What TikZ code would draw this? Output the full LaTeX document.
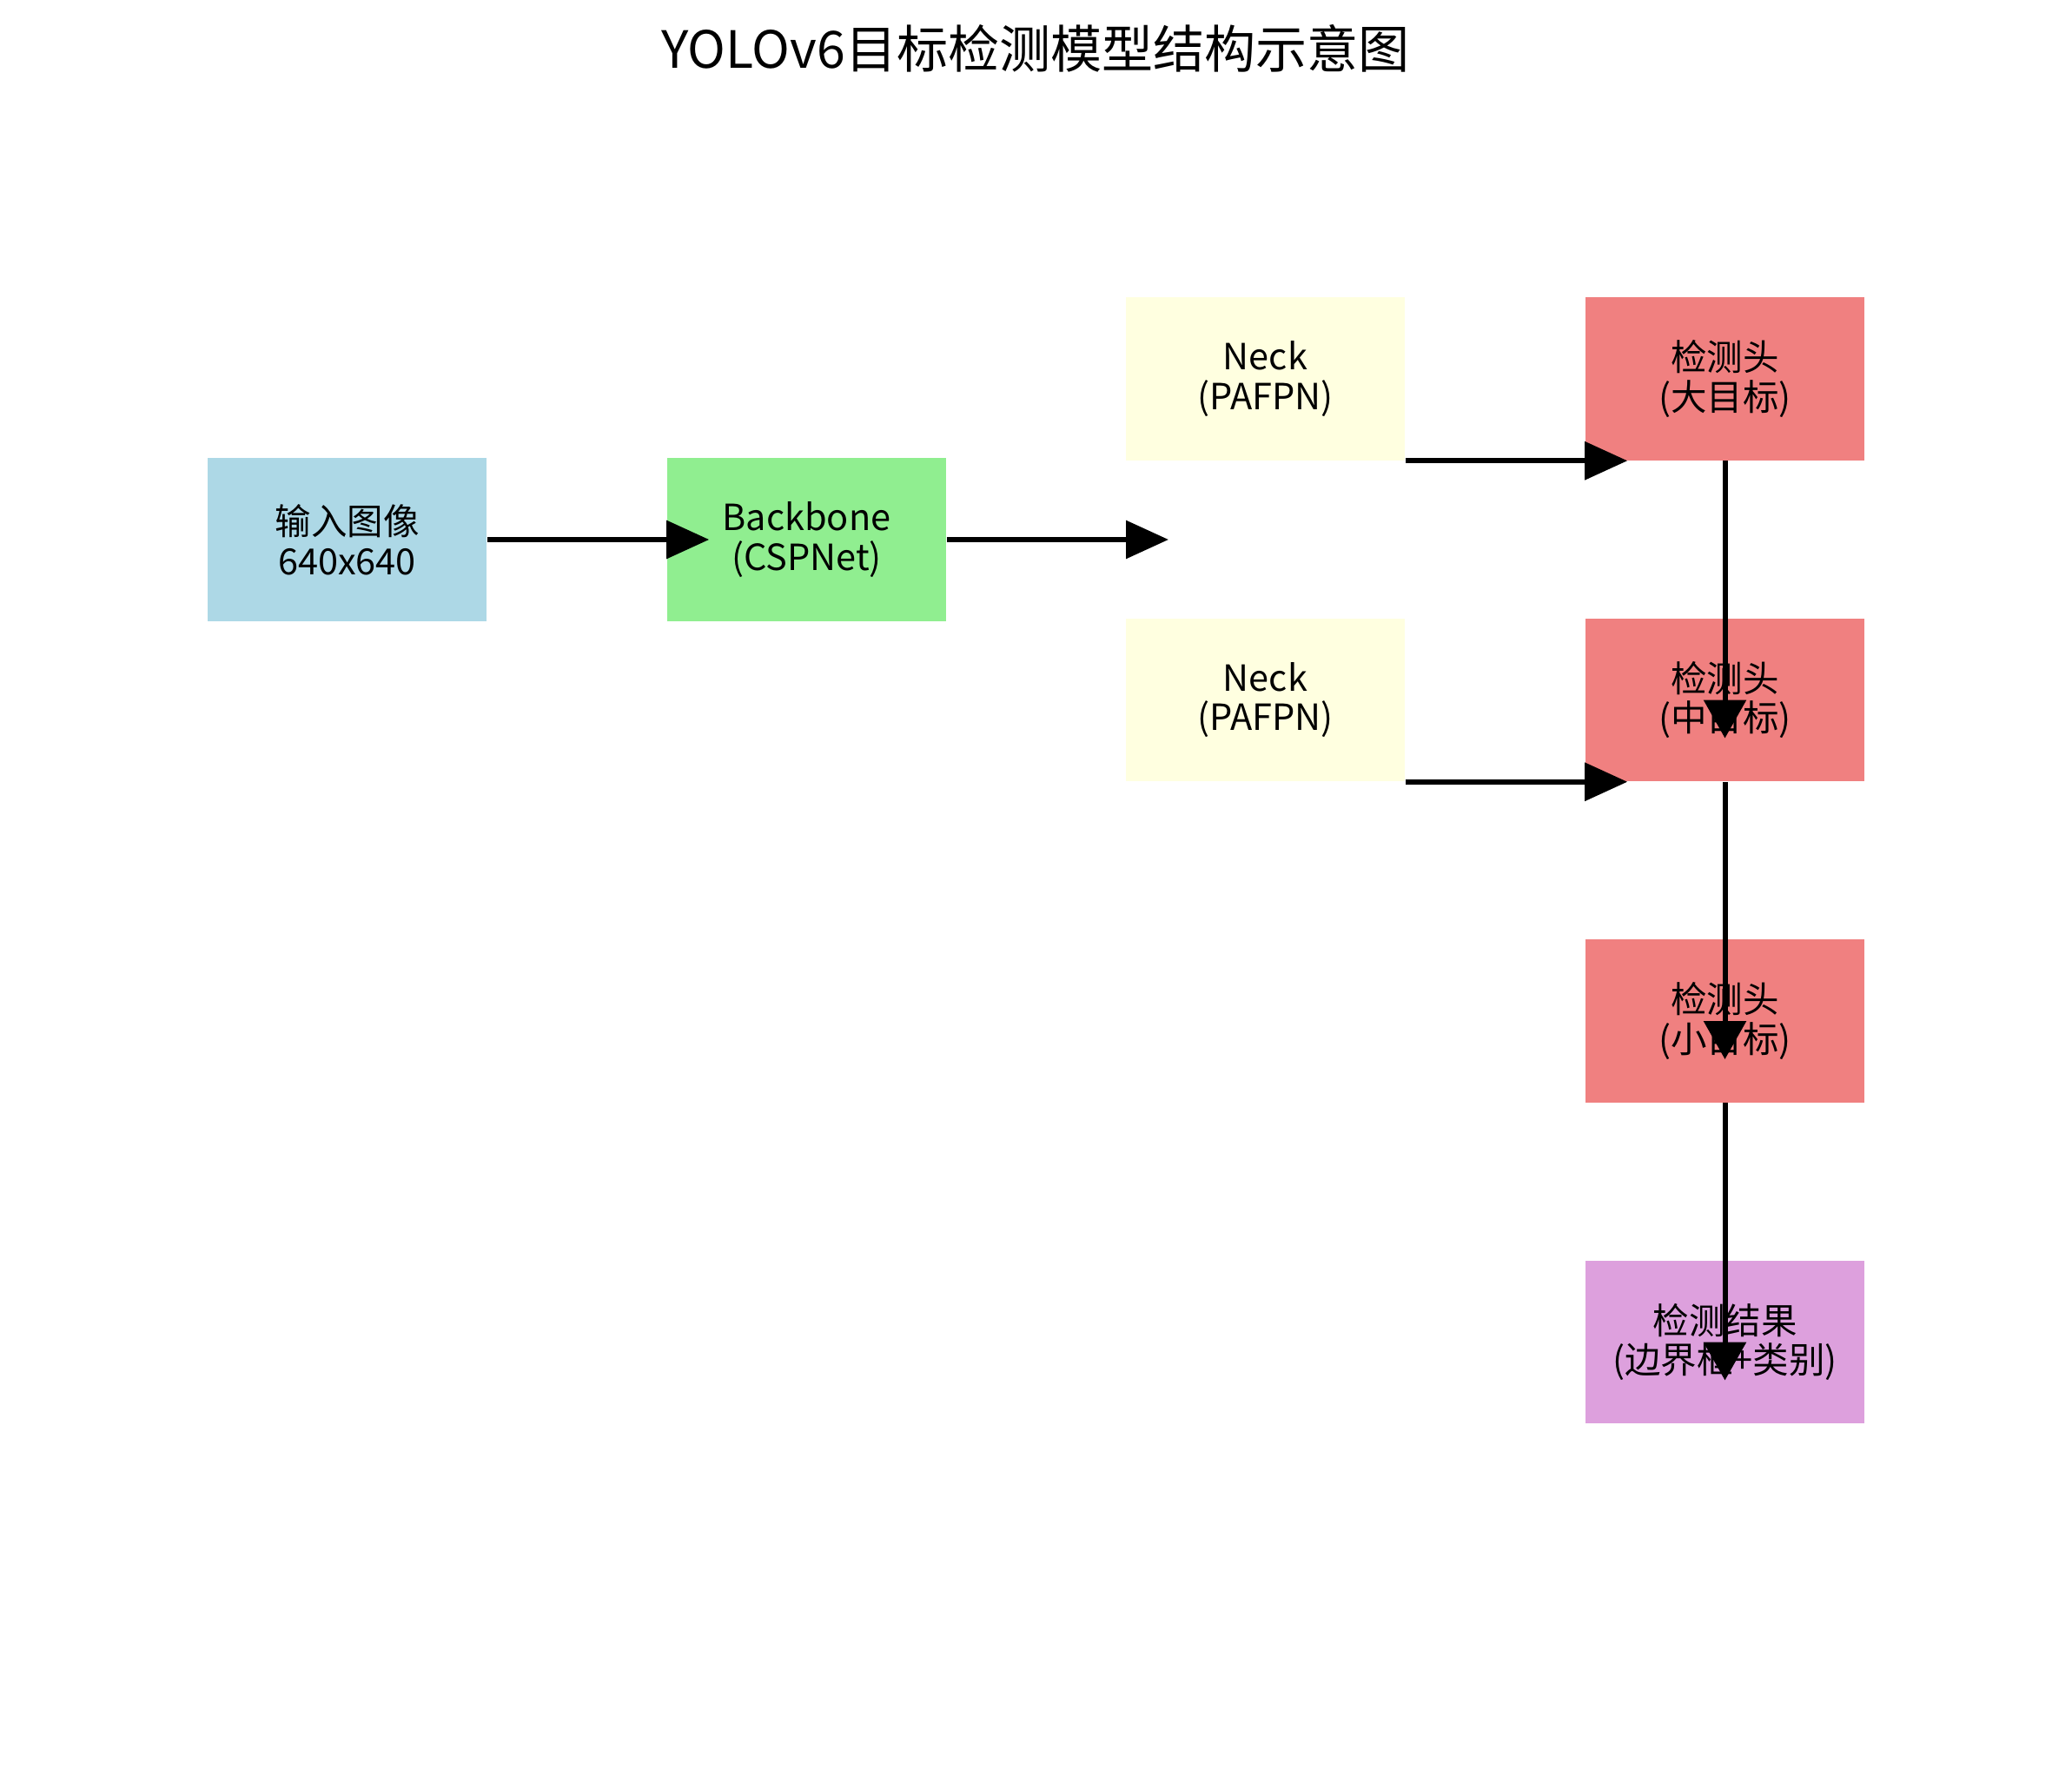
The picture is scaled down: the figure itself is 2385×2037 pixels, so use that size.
\documentclass[tikz,border=0pt]{standalone}
\usepackage{fontspec}
\setmainfont{Noto Sans CJK SC}
\usetikzlibrary{arrows.meta}
\definecolor{inputblue}{HTML}{ADD8E6}
\definecolor{backgreen}{HTML}{90EE90}
\definecolor{neckyellow}{HTML}{FFFFE0}
\definecolor{headcoral}{HTML}{F08080}
\definecolor{resultplum}{HTML}{DDA0DD}
\begin{document}
\begin{tikzpicture}[x=0.01cm,y=-0.01cm,
  block/.style={minimum width=3.21cm, minimum height=1.87cm, inner sep=0pt,
    align=center, text=black, font=\fontsize{11.8pt}{13pt}\selectfont},
  harrow/.style={line width=0.06cm, -{Triangle[length=0.49cm,width=0.43cm]},
    shorten >=-0.49cm},
  varrow/.style={line width=0.06cm, -{Triangle[length=0.44cm,width=0.48cm]},
    shorten >=-0.44cm}]
\useasboundingbox (0,0) rectangle (2385,2037);

% title
\node[font=\fontsize{16.8pt}{20pt}\selectfont] (title) at (1192,56) {YOLOv6目标检测模型结构示意图};

% blocks
\node[block, fill=inputblue] (in) at (399.5,621) {输入图像\\640x640};
\node[block, fill=backgreen] (bb) at (928.5,621) {Backbone\\(CSPNet)};
\node[block, fill=neckyellow] (n1) at (1456.5,436) {Neck\\(PAFPN)};
\node[block, fill=neckyellow] (n2) at (1456.5,805.5) {Neck\\(PAFPN)};
\node[block, fill=headcoral] (h1) at (1985.5,436) {检测头\\(大目标)};
\node[block, fill=headcoral] (h2) at (1985.5,805.5) {检测头\\(中目标)};
\node[block, fill=headcoral] (h3) at (1985.5,1175) {检测头\\(小目标)};
\node[block, fill=resultplum] (res) at (1985.5,1544.5) {检测结果\\(边界框+类别)};

\coordinate (neckin) at (1296,621);

% connectors
\draw[harrow] (in.east) -- (bb.west);
\draw[harrow] (bb.east) -- (neckin);
\draw[harrow] (n1.south east) -- (h1.south west);
\draw[harrow] (n2.south east) -- (h2.south west);
\draw[varrow] (h1.south) -- (h2.center);
\draw[varrow] (h2.south) -- (h3.center);
\draw[varrow] (h3.south) -- (res.center);
\end{tikzpicture}
\end{document}
